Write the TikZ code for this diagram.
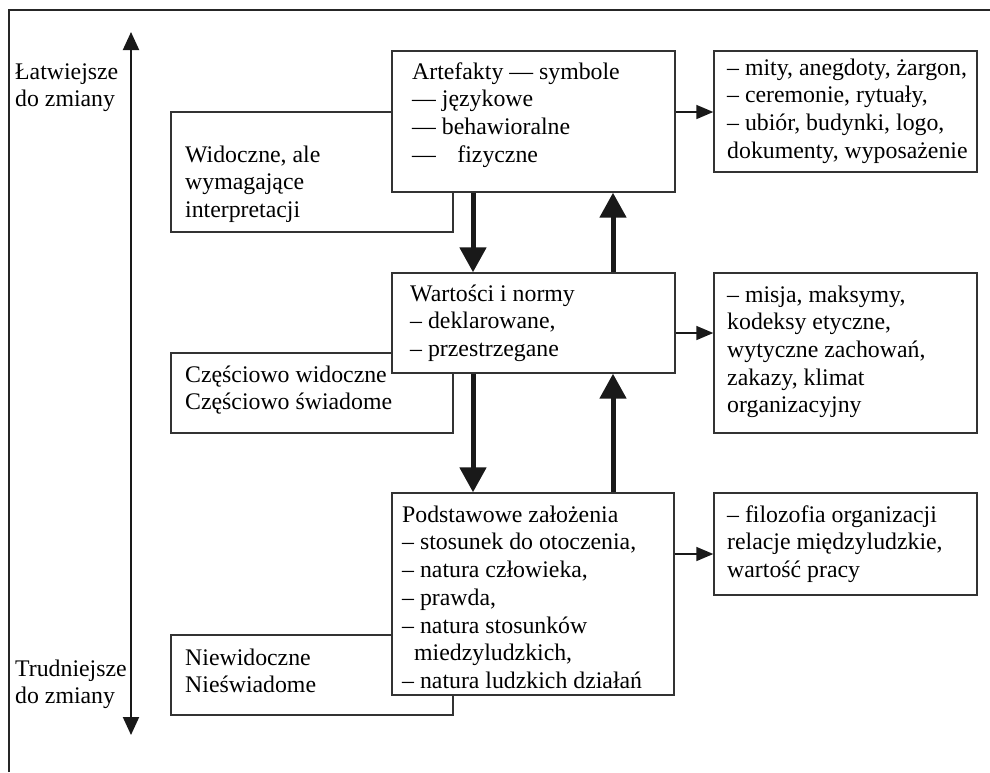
\documentclass[tikz,border=0pt]{standalone}
\usepackage{fontspec}
\setmainfont{Liberation Serif}
\usetikzlibrary{arrows.meta}
\begin{document}
\begin{tikzpicture}[x=1pt,y=-1pt,
  frame/.style={line width=1.5pt,draw=black!85},
  box/.style={draw=black!80,line width=1.4pt,fill=white,inner sep=0pt,rectangle},
  txt/.style={anchor=north west,inner sep=0pt,align=left,
    font=\fontsize{23.8}{27.7}\selectfont},
  scale arrow/.style={line width=2pt,draw=black!90,
    {Triangle[width=16pt,length=18pt]}-{Triangle[width=16pt,length=18pt]}},
  flow arrow/.style={line width=5pt,draw=black!90,
    -{Triangle[width=26pt,length=25pt]}},
  link arrow/.style={line width=1.6pt,draw=black!90,
    -{Triangle[width=14pt,length=17pt]}}]
\useasboundingbox (0,0) rectangle (990,772);

% open frame
\draw[frame] (9,772) -- (9,10) -- (990,10);

% ease-of-change scale
\coordinate (scaletop) at (131,32);
\coordinate (scalebot) at (131,735);
\draw[scale arrow] (scalebot) -- (scaletop);
\node[txt] (easy) at (15,59.6) {\strut Łatwiejsze\\do zmiany};
\node[txt] (hard) at (15,656.6) {\strut Trudniejsze\\do zmiany};

% visibility boxes (behind the level boxes)
\node[box,minimum width=282pt,minimum height=120pt] (vis) at (312,172) {};
\node[box,minimum width=282pt,minimum height=80pt] (part) at (312,393) {};
\node[box,minimum width=282pt,minimum height=80pt] (invis) at (312,675) {};
\node[txt] (vist) at (185,142.6) {\strut Widoczne, ale\\wymagające\\interpretacji};
\node[txt] (partt) at (185,362.6) {\strut Częściowo widoczne\\Częściowo świadome};
\node[txt] (invist) at (185,645.6) {\strut Niewidoczne\\Nieświadome};

% culture levels
\node[box,minimum width=283pt,minimum height=141pt] (art) at (533.5,121.5) {};
\node[box,minimum width=283pt,minimum height=100pt] (val) at (533.5,323) {};
\node[box,minimum width=282pt,minimum height=202pt] (bas) at (533,594) {};
\node[txt] (artt) at (412,59.6) {\strut Artefakty — symbole\\— językowe\\— behawioralne\\—\hspace{0.9em}fizyczne};
\node[txt] (valt) at (410,281.6) {\strut Wartości i normy\\– deklarowane,\\– przestrzegane};
\node[txt] (bast) at (402,502.6) {\strut Podstawowe założenia\\– stosunek do otoczenia,\\– natura człowieka,\\– prawda,\\– natura stosunków\\\hspace{12pt}miedzyludzkich,\\– natura ludzkich działań};

% examples
\node[box,minimum width=263pt,minimum height=121pt] (ex1) at (845.5,111.5) {};
\node[box,minimum width=263pt,minimum height=160pt] (ex2) at (845.5,353) {};
\node[box,minimum width=263pt,minimum height=102pt] (ex3) at (845.5,544) {};
\node[txt] (ex1t) at (727,55.6) {\strut – mity, anegdoty, żargon,\\– ceremonie, rytuały,\\– ubiór, budynki, logo,\\dokumenty, wyposażenie};
\node[txt] (ex2t) at (727,282.6) {\strut – misja, maksymy,\\kodeksy etyczne,\\wytyczne zachowań,\\zakazy, klimat\\organizacyjny};
\node[txt] (ex3t) at (727,502.6) {\strut – filozofia organizacji\\relacje międzyludzkie,\\wartość pracy};

% flows between levels
\coordinate (down) at (473,0);
\coordinate (up) at (613,0);
\draw[flow arrow] (art.south -| down) -- (val.north -| down);
\draw[flow arrow] (val.north -| up) -- (art.south -| up);
\draw[flow arrow] (val.south -| down) -- (bas.north -| down);
\draw[flow arrow] (bas.north -| up) -- (val.south -| up);

% links to examples
\coordinate (l1) at (0,112);
\coordinate (l2) at (0,333);
\coordinate (l3) at (0,554);
\draw[link arrow] (l1 -| art.east) -- (l1 -| ex1.west);
\draw[link arrow] (l2 -| val.east) -- (l2 -| ex2.west);
\draw[link arrow] (l3 -| bas.east) -- (l3 -| ex3.west);
\end{tikzpicture}
\end{document}
